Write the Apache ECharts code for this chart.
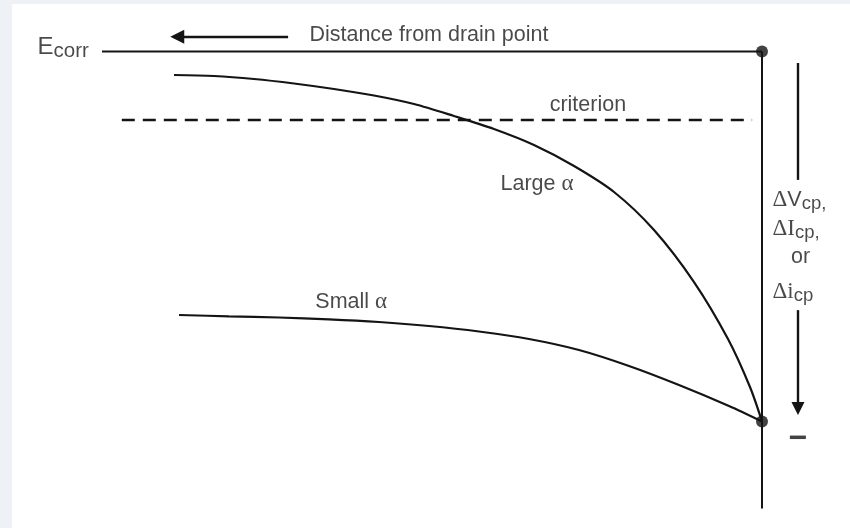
<!DOCTYPE html>
<html>
<head>
<meta charset="utf-8">
<script src="https://cdn.jsdelivr.net/npm/echarts@6/dist/echarts.min.js"></script>
<style>
  html, body { margin: 0; padding: 0; background: #eef2f6; }
  #sheet { position: absolute; left: 12px; top: 4px; width: 838px; height: 524px; background: #ffffff; }
  #chart { position: absolute; left: 0; top: 0; width: 850px; height: 528px; }
</style>
</head>
<body>
<div id="sheet"></div>
<div id="chart"></div>
<script>
// Potential shift below Ecorr (0 = Ecorr, 1 = full shift at the drain point)
// plotted against distance from the drain point (arbitrary units, drain at 0).
const largeAlphaDistance = [8.909, 8.303, 7.697, 7.091, 6.485, 5.879, 5.273, 4.667, 4.061, 3.455, 2.848, 2.242, 1.636, 1.030, 0.515, 0.182, 0];
const largeAlphaShift    = [0.0635, 0.0662, 0.0743, 0.0865, 0.1014, 0.1189, 0.1419, 0.1743, 0.2095, 0.2527, 0.3095, 0.3797, 0.4824, 0.6230, 0.7770, 0.9068, 1];
const smallAlphaDistance = [8.833, 8.076, 7.318, 6.561, 5.803, 5.045, 4.288, 3.530, 2.773, 2.015, 1.258, 0.500, 0];
const smallAlphaShift    = [0.7122, 0.7157, 0.7189, 0.7238, 0.7311, 0.7419, 0.7568, 0.7770, 0.8068, 0.8500, 0.9014, 0.9581, 1];

const ecorrShift = 0;          // Ecorr reference level
const drainShift = 1;          // shift reached at the drain point
const criterionShift = 0.185;  // acceptance criterion level
const ecorrLineFrom = 10.0;    // Ecorr line runs from here to the drain point
const criterionFrom = 9.70;
const criterionTo = 0.15;
const drainAxisDepth = 1.235;  // how far the drain-point axis runs down

const texts = ['E', 'corr', 'Distance from drain point', 'criterion', 'Large ', 'Small ', 'α', 'Δ', 'V', 'I', 'i', 'cp', 'cp,', 'or', '−'];

const INK = '#141414';
const TEXT = '#1c1c1c';
const SANS = 'Liberation Sans, Arial, sans-serif';
const SERIF = 'Liberation Serif, Times New Roman, serif';

const zip = (xs, ys) => xs.map((x, i) => [x, ys[i]]);

const rich = {
  t:    { fontFamily: SANS,  fontSize: 21.5, color: TEXT, lineHeight: 32 },
  big:  { fontFamily: SANS,  fontSize: 24,   color: TEXT, lineHeight: 32 },
  sub:  { fontFamily: SANS,  fontSize: 20.5, color: TEXT, lineHeight: 32, padding: [8, 0, 0, 0] },
  g:    { fontFamily: SERIF, fontSize: 23,   color: TEXT, lineHeight: 32 },
  d:    { fontFamily: SERIF, fontSize: 23,   color: TEXT, lineHeight: 32 },
  cp:   { fontFamily: SANS,  fontSize: 18.5, color: TEXT, lineHeight: 32, padding: [8, 0, 0, 0] },
  m:    { fontFamily: SANS,  fontSize: 32,   color: INK,  lineHeight: 40, fontWeight: 'bold' }
};

const [tE, tCorr, tDist, tCrit, tLarge, tSmall, tAlpha, tDelta, tV, tI, ti, tcp, tcpc, tOr, tMinus] = texts;

const labelItems = [
  { value: [10.97, -0.0086], text: `{big|${tE}}{sub|${tCorr}}` },
  { value: [6.85, -0.0432],  text: `{t|${tDist}}` },
  { value: [3.21, 0.147],    text: `{t|${tCrit}}` },
  { value: [3.955, 0.359],   text: `{t|${tLarge}}{g|${tAlpha}}` },
  { value: [6.76, 0.678],    text: `{t|${tSmall}}{g|${tAlpha}}` },
  { value: [-0.167, 0.403],  text: `{d|${tDelta}}{t|${tV}}{cp|${tcpc}}` },
  { value: [-0.167, 0.481],  text: `{d|${tDelta}}{d|${tI}}{cp|${tcpc}}` },
  { value: [-0.591, 0.556],  text: `{t|${tOr}}`, center: true },
  { value: [-0.167, 0.652],  text: `{d|${tDelta}}{d|${ti}}{cp|${tcp}}` },
  { value: [-0.553, 1.049],  text: `{m|${tMinus}}`, center: true }
];

const chart = echarts.init(document.getElementById('chart'), null, { renderer: 'canvas' });

const plainLine = (data, extra) => Object.assign({
  type: 'line', data, symbol: 'none', silent: true, clip: false, z: 2,
  lineStyle: { color: INK, width: 2 }
}, extra || {});

chart.setOption({
  animation: false,
  backgroundColor: 'transparent',
  grid: { left: 0, right: 0, top: 0, bottom: 0 },
  xAxis: { type: 'value', inverse: true, min: -88 / 66, max: 762 / 66, show: false },
  yAxis: { type: 'value', inverse: true, min: -51.5 / 370, max: 476.5 / 370, show: false },
  series: [
    plainLine([[ecorrLineFrom, ecorrShift], [0, ecorrShift]]),
    plainLine([[0, ecorrShift], [0, drainAxisDepth]]),
    plainLine([[criterionFrom, criterionShift], [criterionTo, criterionShift]],
      { lineStyle: { color: INK, width: 2.6, type: [13, 8] } }),
    plainLine(zip(largeAlphaDistance, largeAlphaShift),
      { smooth: 0.3, lineStyle: { color: INK, width: 2.2 } }),
    plainLine(zip(smallAlphaDistance, smallAlphaShift),
      { smooth: 0.3, lineStyle: { color: INK, width: 2.2 } }),
    {
      type: 'scatter', silent: true, z: 3, symbolSize: 12,
      itemStyle: { color: INK },
      data: [[0, ecorrShift], [0, drainShift]]
    },
    {
      type: 'lines', coordinateSystem: 'cartesian2d', silent: true, z: 2,
      lineStyle: { color: INK, width: 2.4, opacity: 1 },
      data: [
        { coords: [[7.18, -0.04], [8.86, -0.04]], symbol: ['none', 'triangle'], symbolSize: 14 },
        { coords: [[-0.545, 0.031], [-0.545, 0.347]], symbol: ['none', 'none'] },
        { coords: [[-0.545, 0.699], [-0.545, 0.965]], symbol: ['none', 'triangle'], symbolSize: 13 }
      ]
    },
    {
      type: 'scatter', silent: true, z: 4, symbolSize: 1,
      itemStyle: { color: 'transparent' },
      data: labelItems.map(d => ({
        value: d.value,
        label: {
          show: true,
          position: [0, 0],
          align: d.center ? 'center' : 'left',
          verticalAlign: 'middle',
          formatter: d.text,
          rich
        }
      }))
    }
  ]
});
</script>
</body>
</html>
